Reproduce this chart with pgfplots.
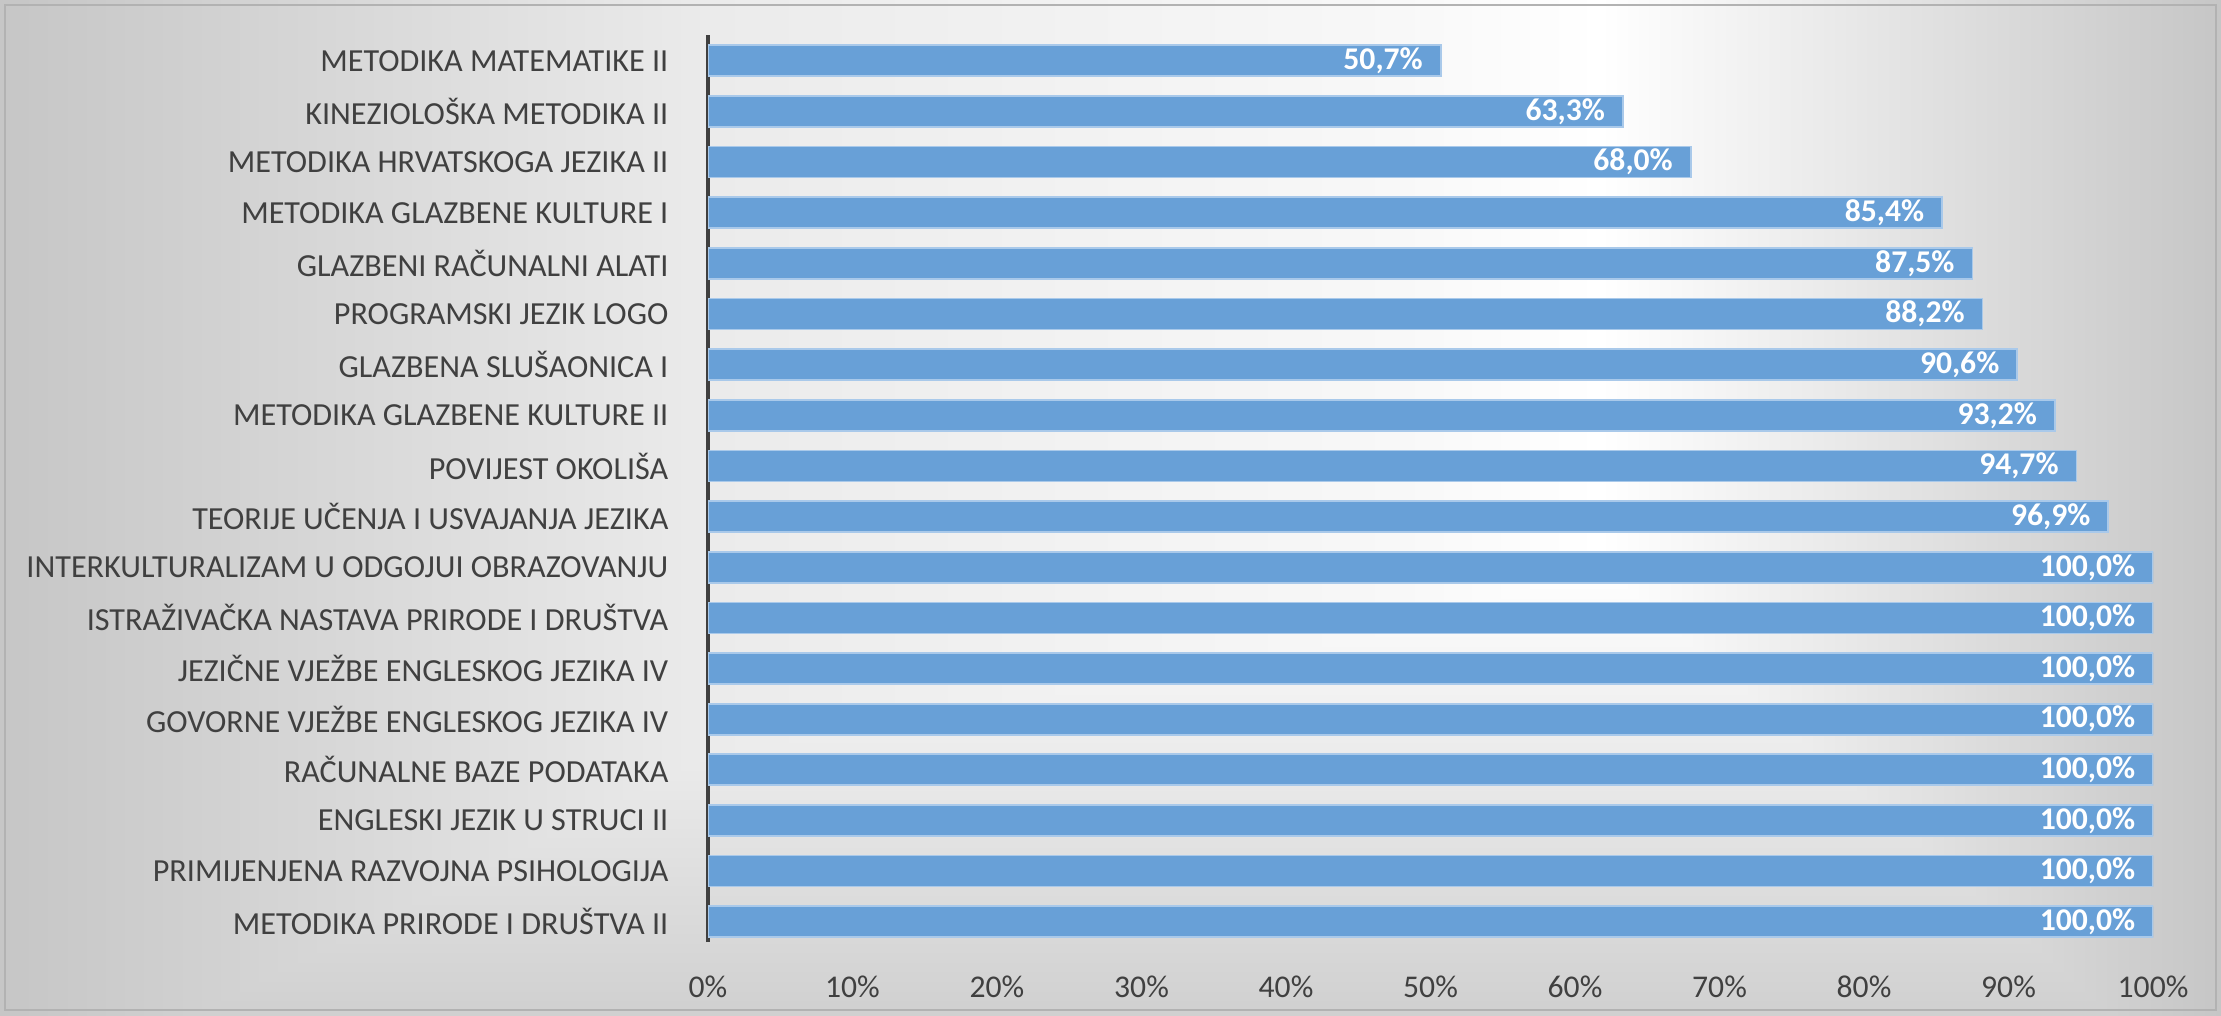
\documentclass[border=0pt]{standalone}
\usepackage{pgfplots}
\pgfplotsset{compat=1.18}
\usepackage{fontspec}
\setmainfont{Carlito}
\definecolor{barblue}{HTML}{68A0D7}
\definecolor{baredge}{HTML}{A9C9EA}
\definecolor{txt}{HTML}{404040}
\definecolor{bgedge}{HTML}{C6C6C6}
\definecolor{bgmid}{HTML}{EBEBEB}
\definecolor{bglight}{HTML}{F8F8F8}
\definecolor{bgbottom}{HTML}{D0D0D0}
\begin{document}
\begin{tikzpicture}
% background: gray at the edges, near white in the middle
\shade[left color=bgedge, right color=bgmid] (0,0) rectangle (7.09,10.15);
\shade[left color=bgmid, right color=bglight] (7.08,0) rectangle (14.01,10.15);
\shade[left color=bglight, right color=white] (14,0) rectangle (16.01,10.15);
\shade[left color=white, right color=bgedge] (16,0) rectangle (22.21,10.15);
\begin{scope}[blend mode=darken]
  \shade[top color=white, bottom color=bgbottom] (0,0) rectangle (22.21,4.5);
\end{scope}
\draw[black!30, line width=0.6pt] (0.05,0.05) rectangle (22.16,10.10);
\begin{axis}[
  at={(7.08cm,0.73cm)}, anchor=south west,
  scale only axis, width=14.45cm, height=9.07cm,
  xbar, bar width=0.31cm,
  xmin=0, xmax=100, ymin=-0.4, ymax=17.51,
  xtick={0,10,...,100},
  xticklabel={\pgfmathprintnumber{\tick}\%},
  ytick={0,...,17},
  yticklabels={METODIKA PRIRODE I DRUŠTVA II,PRIMIJENJENA RAZVOJNA PSIHOLOGIJA,ENGLESKI JEZIK U STRUCI II,RAČUNALNE BAZE PODATAKA,GOVORNE VJEŽBE ENGLESKOG JEZIKA IV,JEZIČNE VJEŽBE ENGLESKOG JEZIKA IV,ISTRAŽIVAČKA NASTAVA PRIRODE I DRUŠTVA,INTERKULTURALIZAM U ODGOJUI OBRAZOVANJU,TEORIJE UČENJA I USVAJANJA JEZIKA,POVIJEST OKOLIŠA,METODIKA GLAZBENE KULTURE II,GLAZBENA SLUŠAONICA I,PROGRAMSKI JEZIK LOGO,GLAZBENI RAČUNALNI ALATI,METODIKA GLAZBENE KULTURE I,METODIKA HRVATSKOGA JEZIKA II,KINEZIOLOŠKA METODIKA II,METODIKA MATEMATIKE II},
  major tick length=0pt,
  axis x line*=bottom, axis y line*=left,
  x axis line style={draw=none},
  y axis line style={draw=black!75, line width=1pt},
  /pgf/number format/assume math mode=true,
  tick label style={text=txt},
  xticklabel style={font=\fontsize{9}{10}\selectfont, anchor=base, inner sep=0pt, yshift=-0.55cm},
  yticklabel style={font=\fontsize{9.15}{10}\selectfont, anchor=east, inner sep=0pt, xshift=-0.39cm},
  nodes near coords={\pgfmathprintnumber[fixed,fixed zerofill,precision=1,use comma]{\pgfplotspointmeta}\%},
  point meta=x,
  every node near coord/.append style={anchor=east, inner sep=0pt, xshift=-0.17cm, text=white, font=\fontsize{9}{10}\selectfont\bfseries},
]
\addplot[fill=barblue, draw=baredge, line width=0.5pt] coordinates {
  (100,0) (100,1) (100,2) (100,3) (100,4) (100,5) (100,6) (100,7)
  (96.9,8) (94.7,9) (93.2,10) (90.6,11) (88.2,12) (87.5,13) (85.4,14)
  (68.0,15) (63.3,16) (50.7,17)
};
\end{axis}
\pgfresetboundingbox
\useasboundingbox (0,0) rectangle (22.21,10.15);
\end{tikzpicture}
\end{document}
